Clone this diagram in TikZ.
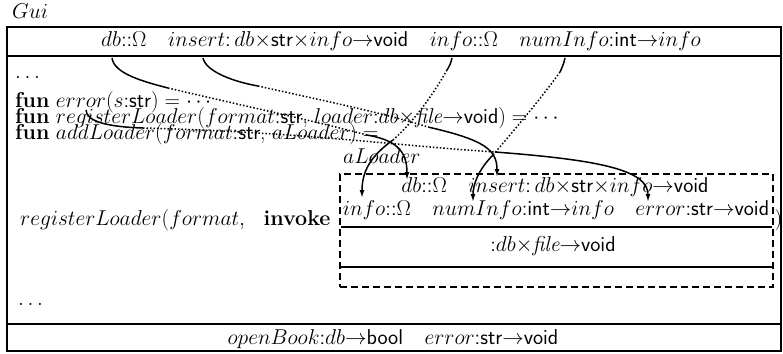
\RequirePackage{fix-cm}
\documentclass[tikz,border=0pt]{standalone}
\usetikzlibrary{arrows.meta}
\newcommand{\fsz}{\fontsize{21.5}{23}\selectfont}
\newcommand{\ssf}[1]{\textsf{#1}}
\begin{document}
\begin{tikzpicture}[x=1pt,y=-1pt,
  txt/.style={inner sep=0pt, anchor=base west, font=\fsz},
  ctxt/.style={inner sep=0pt, anchor=base, font=\fsz},
  frameline/.style={line width=1.7pt},
  dashbox/.style={draw, line width=1.3pt, dash pattern=on 7pt off 4pt, inner sep=0pt},
  conn/.style={line width=1.5pt},
  dconn/.style={line width=1.5pt, dotted},
  arr/.style={line width=1.5pt, -{Latex[length=8pt,width=5pt]}}]
\useasboundingbox (0,0) rectangle (783,353);
% frame
\draw[frameline] (7,27) rectangle (781,351);
\draw[frameline] (7,56) -- (781,56);
\draw[frameline] (7,324) -- (781,324);
\node[txt] (gui) at (12,19) {$Gui$};
\node[ctxt] (hdr) at (401,47) {$db$\ssf{::}$\Omega$\quad $insert$\ssf{:}\,$db{\times}$\ssf{str}${\times}info{\to}$\ssf{void}\quad $info$\ssf{::}$\Omega$\quad $numInfo$\ssf{:int}${\to}info$};
\node[txt] (dotsa) at (15,78) {$\ldots$};
\node[txt] (la) at (15,107) {\textbf{fun} $error(s$\ssf{:str}$)={\cdots}$};
\node[txt] (lb) at (15,123) {\textbf{fun} $registerLoader(format$\ssf{:str}, $loader$\ssf{:}$db{\times}$\textit{file}${\to}$\ssf{void}$)={\cdots}$};
\node[txt] (lc) at (15,139) {\textbf{fun} $addLoader(format$\ssf{:str}, $aLoader)=$};
\node[txt] (al) at (343,163) {$aLoader$};
\node[txt] (reg) at (20,225) {$registerLoader(format,$\hspace{12pt} \textbf{invoke}};
\node[dashbox, minimum width=433pt, minimum height=113pt] (ibox) at (556.5,230.5) {};
\node[ctxt] (ia) at (555,192) {$db$\ssf{::}$\Omega$\quad $insert$\ssf{:}\,$db{\times}$\ssf{str}${\times}info{\to}$\ssf{void}};
\node[ctxt] (ib) at (556,215) {$info$\ssf{::}$\Omega$\quad $numInfo$\ssf{:int}${\to}info$\quad $error$\ssf{:str}${\to}$\ssf{void}};
\draw[line width=1.3pt] (341,227) -- (772,227);
\node[ctxt] (ic) at (553,251) {\ssf{:}$db{\times}$\textit{file}${\to}$\ssf{void}};
\draw[line width=2.6pt] (341,267) -- (772,267);
\node[txt] (rp) at (774.5,225) {$)$};
\node[txt] (dotsb) at (18,305) {$\ldots$};
\node[ctxt] (bot) at (393,344) {$openBook$\ssf{:}$db{\to}$\ssf{bool}\quad $error$\ssf{:str}${\to}$\ssf{void}};
% connector coordinates
\coordinate (a0) at (112,58); \coordinate (a1) at (168,88); \coordinate (a2) at (367,135); \coordinate (a3) at (407,180);
\coordinate (b0) at (203,58); \coordinate (b1) at (258,86); \coordinate (b2) at (428,127); \coordinate (b3) at (497,177);
\coordinate (c0) at (86,110); \coordinate (c1) at (143,128); \coordinate (c2) at (495,152); \coordinate (c3) at (648,202);
\coordinate (d0) at (452,58); \coordinate (d1) at (447,70); \coordinate (d2) at (393,140); \coordinate (d3) at (362,198);
\coordinate (e0) at (565,58); \coordinate (e1) at (560,72); \coordinate (e2) at (493,155); \coordinate (e3) at (473,202);
% db
\draw[conn] (a0) .. controls (114,74) and (145,82) .. (a1);
\draw[dconn] (a1) .. controls (240,105) and (310,120) .. (a2);
\draw[arr] (a2) .. controls (395,140) and (407,150) .. (a3);
% insert
\draw[conn] (b0) .. controls (206,72) and (235,82) .. (b1);
\draw[dconn] (b1) .. controls (320,100) and (380,112) .. (b2);
\draw[arr] (b2) .. controls (485,140) and (497,150) .. (b3);
% error
\draw[conn] (c0) .. controls (86,122) and (110,127) .. (c1);
\draw[dconn] (c1) .. controls (300,132) and (400,146) .. (c2);
\draw[arr] (c2) .. controls (600,160) and (648,170) .. (c3);
% info
\draw[conn] (d0) .. controls (451,63) and (449,67) .. (d1);
\draw[dconn] (d1) .. controls (430,100) and (410,125) .. (d2);
\draw[arr] (d2) .. controls (372,155) and (362,170) .. (d3);
% numInfo
\draw[conn] (e0) .. controls (564,63) and (562,68) .. (e1);
\draw[dconn] (e1) .. controls (540,100) and (510,135) .. (e2);
\draw[arr] (e2) .. controls (478,170) and (473,185) .. (e3);
\end{tikzpicture}
\end{document}
